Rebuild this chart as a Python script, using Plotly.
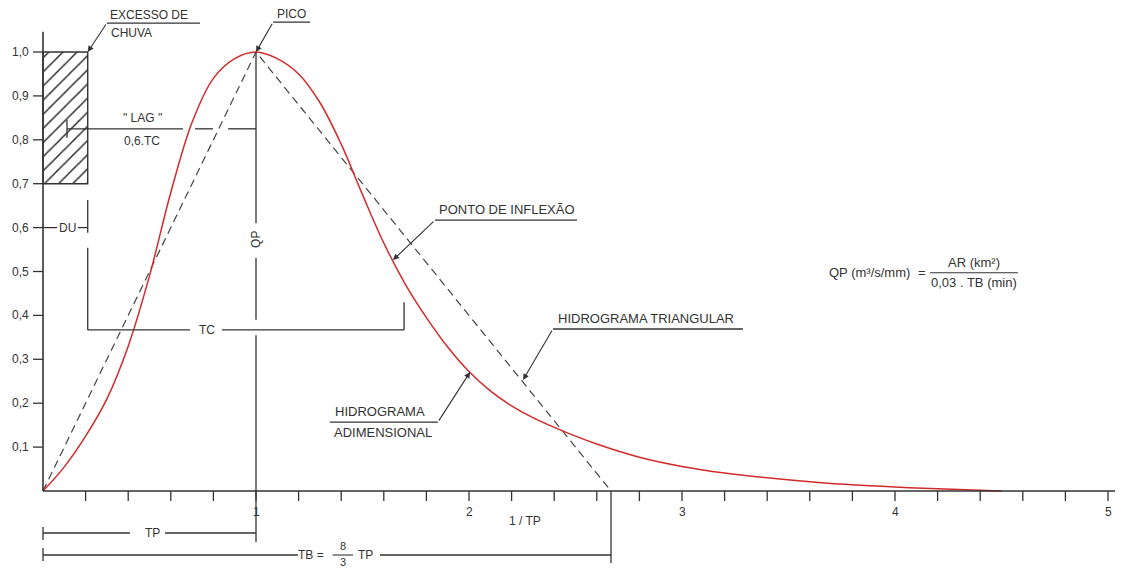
import plotly.graph_objects as go

# ---------------- data ----------------
# dimensionless unit hydrograph (t/tp , q/qp)
t_ratio = [0, 0.1, 0.2, 0.3, 0.4, 0.5, 0.6, 0.7, 0.8, 0.9, 1.0, 1.1, 1.2, 1.3, 1.4,
           1.5, 1.6, 1.7, 1.8, 1.9, 2.0, 2.1, 2.2, 2.3, 2.4, 2.6, 2.8, 3.0, 3.2, 3.4, 3.6,
           3.8, 4.0, 4.2, 4.5]
q_ratio = [0, 0.055, 0.125, 0.21, 0.33, 0.49, 0.68, 0.84, 0.94, 0.985, 1.0, 0.985, 0.95, 0.885, 0.79,
           0.675, 0.565, 0.472, 0.395, 0.328, 0.272, 0.228, 0.194, 0.167, 0.145, 0.107, 0.077, 0.056, 0.041,
           0.030, 0.021, 0.014, 0.009, 0.005, 0.0]
# triangular hydrograph
tri_t = [0, 1, 8 / 3]
tri_q = [0, 1, 0]
# rainfall excess block
rain_t = [0, 0.21]
rain_q = [0.7, 1.0]
# axis ticks
x_major_ticks = [1, 2, 3, 4, 5]
x_major_labels = ["1", "2", "3", "4", "5"]
x_minor_ticks = [0.2, 0.4, 0.6, 0.8, 1.2, 1.4, 1.6, 1.8, 2.2, 2.4, 2.6, 2.8,
                 3.2, 3.4, 3.6, 3.8, 4.2, 4.4, 4.6, 4.8]
y_ticks = [0.1, 0.2, 0.3, 0.4, 0.5, 0.6, 0.7, 0.8, 0.9, 1.0]
y_labels = ["0,1", "0,2", "0,3", "0,4", "0,5", "0,6", "0,7", "0,8", "0,9", "1,0"]

# ---------------- figure ----------------
PAGE_MARGIN = 8                    # default <body> margin of the html page
W, H = 1123 - PAGE_MARGIN, 569 - PAGE_MARGIN
X0PX, Y0PX = 43 - PAGE_MARGIN, 491 - PAGE_MARGIN
SX, SY = 213, 439                  # pixels per unit
xr = [-X0PX / SX, (W - X0PX) / SX]
yr = [(Y0PX - H) / SY, Y0PX / SY]
dx = 1 / SX
dy = 1 / SY

INK = "#333333"
RED = "#d22b2b"
FAM = "Liberation Sans, Arial, sans-serif"

fig = go.Figure()

# rainfall excess hatched block
fig.add_trace(go.Scatter(
    x=[rain_t[0], rain_t[1], rain_t[1], rain_t[0], rain_t[0]],
    y=[rain_q[0], rain_q[0], rain_q[1], rain_q[1], rain_q[0]],
    mode="lines", fill="toself", fillcolor="white",
    fillpattern=dict(shape="/", fgcolor="#2a2a2a", bgcolor="white", fgopacity=1,
                     size=10, solidity=0.15),
    line=dict(color=INK, width=1.4), hoverinfo="skip", showlegend=False))

# triangular hydrograph
fig.add_trace(go.Scatter(x=tri_t, y=tri_q, mode="lines",
                         line=dict(color="#444444", width=1.2, dash="8px,5px"),
                         hoverinfo="skip", showlegend=False))
# dimensionless hydrograph
fig.add_trace(go.Scatter(x=t_ratio, y=q_ratio, mode="lines",
                         line=dict(color=RED, width=1.5, shape="spline", smoothing=1.0),
                         hoverinfo="skip", showlegend=False))

shapes = []


def seg(x0, y0, x1, y1, w=1.3, color=INK):
    shapes.append(dict(type="line", xref="x", yref="y", x0=x0, y0=y0, x1=x1, y1=y1,
                       line=dict(color=color, width=w), layer="above"))


annotations = []


def txt(x, y, s, xanchor="center", yanchor="middle", size=13, angle=0, pad=1):
    annotations.append(dict(x=x, y=y, xref="x", yref="y", text=s, showarrow=False,
                            xanchor=xanchor, yanchor=yanchor, borderpad=pad,
                            font=dict(family=FAM, size=size, color=INK), textangle=angle))


def arrow(tx, ty, ax, ay):
    annotations.append(dict(x=tx, y=ty, ax=ax, ay=ay, xref="x", yref="y", axref="x", ayref="y",
                            text="", showarrow=True, arrowhead=2, arrowsize=1.1, arrowwidth=1.1,
                            arrowcolor=INK, standoff=0))


# axes
seg(0, 0, xr[1], 0, w=1.6)
seg(0, 0, 0, 1.046, w=1.6)
for xt in x_major_ticks + x_minor_ticks:
    seg(xt, 0, xt, -10 * dy, w=1.3)
for xt, lab in zip(x_major_ticks, x_major_labels):
    txt(xt, -21 * dy, lab, size=12)
for yt, lab in zip(y_ticks, y_labels):
    seg(0, yt, -10 * dx, yt, w=1.3)
    txt(-12 * dx, yt, lab, xanchor="right", size=12)
txt(2.263, -30 * dy, "1 / TP", size=12)

# QP vertical line at peak (with gaps)
seg(1, 1, 1, 0.61)
txt(1, 0.572, "QP", angle=-90, size=12)
seg(1, 0.531, 1, 0.39)
seg(1, 0.355, 1, -51 * dy)

# LAG dimension
yl = 0.825
seg(24 * dx, yl, 0.657, yl)
seg(0.714, yl, 0.798, yl)
seg(0.869, yl, 1.0, yl)
seg(24 * dx, yl + 9 * dy, 24 * dx, yl - 9 * dy)
txt(0.465, yl + 11 * dy, '" LAG "', size=12)
txt(0.465, yl - 12 * dy, "0,6.TC", size=12)

# DU dimension
seg(0, 0.6, 0.066, 0.6)
seg(0.164, 0.6, 0.21, 0.6)
seg(0.21, 0.663, 0.21, 0.588)
txt(0.115, 0.6, "DU", size=12)

# TC dimension
ytc = 0.367
seg(0.21, 0.554, 0.21, ytc)
seg(0.21, ytc, 0.69, ytc)
seg(0.84, ytc, 1.695, ytc)
seg(1.695, ytc, 1.695, 0.43)
txt(0.77, ytc, "TC", size=12)

# TP dimension
ytp = -42 * dy
seg(0, ytp, 0.408, ytp)
seg(0.573, ytp, 1.0, ytp)
seg(0, ytp + 6 * dy, 0, ytp - 7 * dy)
txt(0.512, ytp, "TP", size=12)

# TB dimension
ytb = -64 * dy
seg(0, ytb, 1.197, ytb)
seg(1.582, ytb, 8 / 3, ytb)
seg(0, ytb + 7 * dy, 0, ytb - 6 * dy)
seg(8 / 3, 0, 8 / 3, ytb - 8 * dy)
txt(1.33, ytb, "TB =", xanchor="right", size=12)
seg(1.36, ytb, 1.455, ytb, w=1.1)
txt(1.408, ytb + 9 * dy, "8", size=11, pad=0)
txt(1.408, ytb - 7 * dy, "3", size=11, pad=0)
txt(1.47, ytb, "TP", xanchor="left", size=12)

# callout: EXCESSO DE CHUVA
seg(0.30, 1.066, 0.737, 1.066)
arrow(0.21, 1.0, 0.30, 1.066)
txt(0.31, 1.066, "EXCESSO DE", xanchor="left", yanchor="bottom", size=12, pad=0)
txt(0.31, 1.066 - 1 * dy, "CHUVA", xanchor="left", yanchor="top", size=12)

# callout: PICO
seg(1.08, 1.068, 1.254, 1.068)
arrow(1.0, 1.0, 1.08, 1.068)
txt(1.095, 1.068, "PICO", xanchor="left", yanchor="bottom", size=12, pad=0)

# callout: PONTO DE INFLEXÃO
seg(1.84, 0.617, 2.507, 0.617)
arrow(1.643, 0.526, 1.84, 0.617)
txt(1.85, 0.617 + 1 * dy, "PONTO DE INFLEXÃO", xanchor="left", yanchor="bottom")

# callout: HIDROGRAMA TRIANGULAR
seg(2.394, 0.369, 3.286, 0.369)
arrow(2.254, 0.253, 2.394, 0.369)
txt(2.41, 0.369 + 1 * dy, "HIDROGRAMA TRIANGULAR", xanchor="left", yanchor="bottom")

# callout: HIDROGRAMA ADIMENSIONAL
seg(1.347, 0.157, 1.854, 0.157)
arrow(2.005, 0.271, 1.854, 0.157)
txt(1.36, 0.157 + 1 * dy, "HIDROGRAMA", xanchor="left", yanchor="bottom")
txt(1.355, 0.157 - 1 * dy, "ADIMENSIONAL", xanchor="left", yanchor="top")

# formula
yf = 0.497
txt(4.08, yf, "QP (m³/s/mm)", xanchor="right")
txt(4.127, yf, "=")
seg(4.164, yf, 4.577, yf, w=1.1)
txt(4.37, yf + 10 * dy, "AR (km²)")
txt(4.37, yf - 10 * dy, "0,03 . TB (min)")

fig.update_layout(
    width=W, height=H,
    margin=dict(l=0, r=0, t=0, b=0),
    paper_bgcolor="white", plot_bgcolor="white",
    xaxis=dict(range=xr, visible=False, fixedrange=True),
    yaxis=dict(range=yr, visible=False, fixedrange=True),
    shapes=shapes, annotations=annotations,
    showlegend=False,
)

fig.write_html("out.html")
